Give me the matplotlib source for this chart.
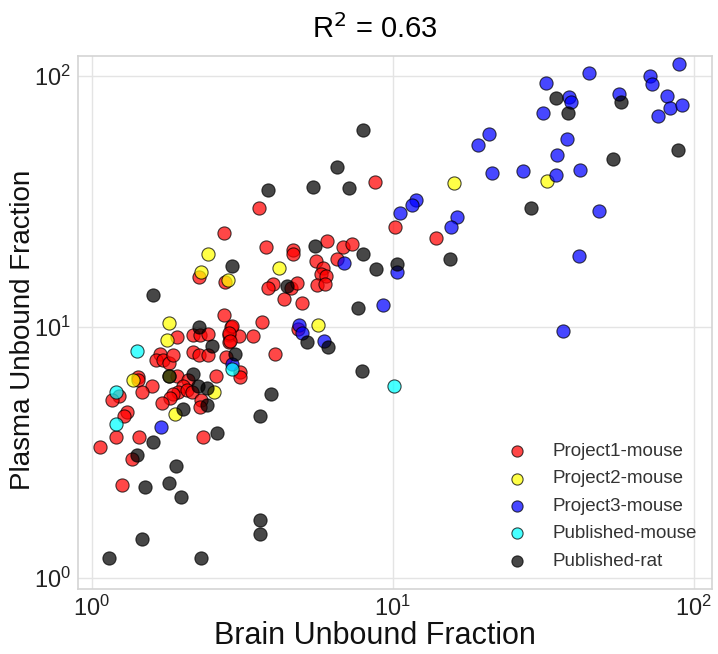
import math
import matplotlib
matplotlib.use('Agg')
import matplotlib.pyplot as plt
from matplotlib.ticker import LogLocator, FuncFormatter, NullLocator

plt.rcParams['font.family'] = ['Liberation Sans', 'DejaVu Sans']

# Project1-mouse
p1_brain = [1.92, 2.17, 2.29, 2.43, 2.75, 2.90, 2.85, 2.85, 3.08, 3.43,
            2.17, 2.27, 2.43, 2.79, 3.10, 3.10, 1.68, 1.63, 1.72, 1.80,
            1.86, 1.92, 1.42, 1.42, 1.58, 1.47, 1.23, 1.17, 2.08, 2.00,
            1.93, 1.86, 1.82, 1.71, 2.07, 2.15, 2.58, 2.30, 2.29, 1.31,
            1.28, 1.20, 1.43, 2.34, 1.06, 1.36, 1.26, 8.7, 3.59, 2.75,
            3.79, 2.27, 2.77, 4.65, 4.65, 6.04, 6.82, 7.31, 5.55, 6.52,
            5.85, 5.77, 5.99, 5.59, 5.94, 3.99, 3.84, 4.58, 4.80, 4.35,
            4.99, 3.67, 2.92, 2.85, 2.87, 4.84, 4.06, 10.2, 13.9]
p1_plasma = [9.1, 9.3, 9.3, 9.4, 11.2, 10.0, 9.3, 8.7, 9.2, 9.2,
             7.95, 7.7, 7.7, 7.6, 6.6, 6.3, 7.8, 7.4, 7.4, 7.2,
             7.7, 6.4, 6.3, 6.15, 5.8, 5.5, 5.3, 5.1, 6.15, 5.8,
             5.5, 5.4, 5.2, 5.0, 5.6, 5.5, 6.4, 5.1, 4.8, 4.6,
             4.4, 3.65, 3.65, 3.65, 3.33, 2.98, 2.35, 37.8, 29.8, 23.7,
             20.8, 15.8, 15.1, 20.3, 19.5, 22.0, 20.8, 21.4, 18.3, 18.7,
             17.2, 16.3, 16.0, 14.7, 14.8, 14.8, 14.3, 14.3, 15.0, 12.9,
             12.4, 10.5, 10.1, 9.5, 8.8, 9.8, 7.8, 25.0, 22.6]

# Project2-mouse
p2_brain = [1.80, 1.78, 2.43, 2.30, 2.83, 4.18, 5.64, 2.54, 1.89, 1.37, 1.80, 15.95, 32.5]
p2_plasma = [10.4, 8.9, 19.5, 16.6, 15.4, 17.2, 10.2, 5.5, 4.5, 6.15, 6.4, 37.5, 38.2]

# Project3-mouse
p3_brain = [2.92, 1.70, 6.87, 4.87, 4.99, 5.90, 9.27, 10.31, 11.92, 11.57,
            10.55, 16.3, 15.6, 21.3, 27.0, 19.2, 20.8, 89.2, 44.8, 71.4,
            72.5, 32.2, 38.5, 39.0, 31.5, 56.3, 81.3, 83.2, 91.2, 75.9,
            37.9, 35.1, 41.8, 34.8, 48.4, 41.5, 36.7]
p3_plasma = [7.1, 4.0, 18.0, 10.2, 9.5, 8.8, 12.2, 16.6, 32.1, 30.6,
             28.5, 27.4, 25.0, 41.1, 41.8, 53.1, 58.7, 111.6, 102.8, 100,
             92.9, 93.8, 82.5, 78.8, 71.2, 84.8, 83.2, 74.6, 76.6, 69.3,
             56.1, 48.4, 42.2, 40.3, 29.0, 19.2, 9.6]

# Published-mouse
pm_brain = [1.41, 1.20, 1.20, 2.92, 10.1]
pm_plasma = [8.0, 5.5, 4.1, 6.8, 5.8]

# Published-rat
pr_brain = [1.59, 2.27, 2.50, 2.99, 2.17, 1.80, 2.25, 2.41, 2.41, 2.00,
            3.62, 2.60, 1.59, 1.41, 1.90, 1.50, 1.80, 1.98, 3.62, 3.62,
            1.47, 1.14, 2.30, 6.52, 3.84, 5.42, 7.14, 7.95, 2.92, 5.51,
            7.95, 8.78, 4.45, 7.65, 5.18, 6.08, 7.89, 3.93, 10.3, 15.5,
            28.7, 34.8, 38.2, 57.2, 88.5, 53.8]
pr_plasma = [13.4, 10.0, 8.4, 7.8, 6.5, 6.4, 5.8, 5.7, 4.9, 4.7,
             4.4, 3.78, 3.48, 3.09, 2.79, 2.30, 2.39, 2.10, 1.70, 1.50,
             1.43, 1.20, 1.20, 43.4, 35.1, 36.1, 35.8, 60.9, 17.5, 21.0,
             19.5, 17.0, 14.6, 11.9, 8.7, 8.3, 6.7, 5.4, 17.8, 18.7,
             29.8, 81.7, 71.2, 78.8, 50.7, 46.7]

groups = [
    ('Project1-mouse', p1_brain, p1_plasma, 'red'),
    ('Project2-mouse', p2_brain, p2_plasma, 'yellow'),
    ('Project3-mouse', p3_brain, p3_plasma, 'blue'),
    ('Published-mouse', pm_brain, pm_plasma, 'cyan'),
    ('Published-rat', pr_brain, pr_plasma, 'black'),
]

fig = plt.figure(figsize=(7.18, 6.54), dpi=100)
ax = fig.add_axes([0.1086, 0.0994, 0.8830, 0.8150])

for name, xs, ys, col in groups:
    ax.scatter(xs, ys, s=90, c=col, alpha=0.72, edgecolors='black', linewidths=0.8,
               label=name, zorder=3)

ax.set_xscale('log')
ax.set_yscale('log')
ax.set_xlim(0.899, 114.8)
ax.set_ylim(0.904, 120)

# tick labels as 10^n
fmt = FuncFormatter(lambda v, p: r'$\mathregular{10^{%d}}$' % round(math.log10(v)))
for axis in (ax.xaxis, ax.yaxis):
    axis.set_major_locator(LogLocator(base=10, numticks=5))
    axis.set_minor_locator(NullLocator())
    axis.set_major_formatter(fmt)

ax.tick_params(length=0, labelsize=17, colors='#222222', pad=5)
ax.grid(True, color='#e4e4e4', linewidth=1.0, zorder=0)
ax.set_axisbelow(True)
for sp in ax.spines.values():
    sp.set_color('#d4d4d4')
    sp.set_linewidth(1.2)

ax.set_xlabel('Brain Unbound Fraction', fontsize=22, color='#111111')
ax.set_ylabel('Plasma Unbound Fraction', fontsize=20, color='#111111')
ax.xaxis.set_label_coords((375 - 78) / 634, -0.06)
ax.yaxis.set_label_coords(-0.066, 0.486)

fig.text(0.522, 0.955, r'R$^2$ = 0.63', fontsize=21, ha='center', va='center')

leg = ax.legend(loc='lower right', frameon=False, fontsize=13.5, markerscale=0.85,
                handletextpad=0.9, labelspacing=0.55, borderaxespad=0.0,
                bbox_to_anchor=(0.988, 0.022))
for t in leg.get_texts():
    t.set_color('#333333')

fig.savefig('out.png', dpi=100)
